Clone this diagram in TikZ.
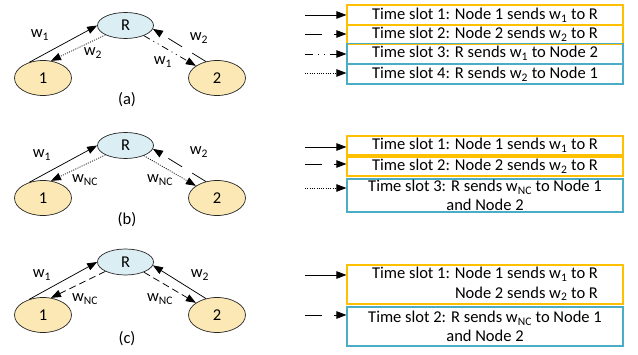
\documentclass[tikz,border=0pt]{standalone}
\usepackage{fontspec}
\setmainfont{Carlito}
\usetikzlibrary{arrows.meta,shapes.geometric}
\definecolor{gold}{HTML}{FFC000}
\definecolor{aqua}{HTML}{4BACC6}
\definecolor{rfill}{HTML}{DAEEF3}
\definecolor{nfill}{HTML}{FBE8B5}
\tikzset{
  fs/.style={font=\fontsize{16.5}{19.5}\selectfont},
  rnode/.style={ellipse, draw=black!85, line width=0.7pt, fill=rfill, minimum width=56pt, minimum height=26pt, inner sep=0pt, fs},
  unode/.style={ellipse, draw=black!85, line width=0.7pt, fill=nfill, minimum width=57pt, minimum height=35pt, inner sep=0pt, fs},
  arr/.style={-{Triangle[length=10pt,width=7.5pt]}, line width=0.75pt},
  lbl/.style={fs, inner sep=0pt},
  slotY/.style={draw=gold, line width=1.2pt, minimum width=276pt, inner sep=0pt, fs, align=center},
  slotB/.style={draw=aqua, line width=1.2pt, minimum width=276pt, inner sep=0pt, fs, align=center},
  longdash/.style={dash pattern=on 16pt off 12pt},
  meddash/.style={dash pattern=on 7pt off 4pt},
  dotline/.style={dash pattern=on 1pt off 1.3pt},
  dashdot/.style={dash pattern=on 7pt off 4pt on 1pt off 4pt on 1pt off 4pt},
}
\newcommand{\wsub}[1]{w\textsubscript{#1}}
\begin{document}
\begin{tikzpicture}[x=1pt,y=-1pt]
\useasboundingbox (0,0) rectangle (638,355);
% ---------------- panel (a)
\node[rnode] (Ra) at (125.5,25.5) {R};
\node[unode] (Aa) at (43,78) {1};
\node[unode] (Ba) at (217,78) {2};
\node[fs] (la) at (127,100) {(a)};
\draw[arr] (Aa.131) -- (Ra.180);
\draw[arr,dotline] (Ra.205) -- (Aa.65);
\draw[arr,longdash] (Ba.124) -- (Ra.353);
\draw[arr,dashdot] (Ra.331) -- (Ba.150);
\node[lbl] (a1) at (40,35) {\wsub{1}};
\node[lbl] (a2) at (93,53) {\wsub{2}};
\node[lbl] (a3) at (199,38) {\wsub{2}};
\node[lbl] (a4) at (163,62) {\wsub{1}};
% legend (a)
\node[slotY, minimum height=20pt] (ta1) at (485,15) {Time slot 1: Node 1 sends \wsub{1} to R};
\node[slotY, minimum height=19pt] (ta2) at (485,34.5) {Time slot 2: Node 2 sends \wsub{2} to R};
\node[slotB, minimum height=20pt] (ta3) at (485,53.5) {Time slot 3: R sends \wsub{1} to Node 2};
\node[slotB, minimum height=20pt] (ta4) at (485,74) {Time slot 4: R sends \wsub{2} to Node 1};
\coordinate (sa1) at (305,15);
\coordinate (sa2) at (305,34);
\coordinate (sa3) at (305,54);
\coordinate (sa4) at (305,73);
\draw[arr] (sa1) -- (sa1 -| ta1.west);
\draw[arr,dash pattern=on 17pt off 12pt] (sa2) -- (sa2 -| ta2.west);
\draw[arr,dash pattern=on 8pt off 5pt on 1pt off 5pt on 1pt off 5pt] (sa3) -- (sa3 -| ta3.west);
\draw[arr,dotline] (sa4) -- (sa4 -| ta4.west);
% ---------------- panel (b)
\node[rnode] (Rb) at (125.5,145.5) {R};
\node[unode] (Ab) at (43,198) {1};
\node[unode] (Bb) at (217,198) {2};
\node[fs] (lb) at (127,220) {(b)};
\draw[arr] (Ab.131) -- (Rb.180);
\draw[arr,dotline] (Rb.205) -- (Ab.65);
\draw[arr,longdash] (Bb.124) -- (Rb.353);
\draw[arr,dotline] (Rb.331) -- (Bb.150);
\node[lbl] (b1) at (42,155) {\wsub{1}};
\node[lbl] (b2) at (85,180) {\wsub{NC}};
\node[lbl] (b3) at (199,152) {\wsub{2}};
\node[lbl] (b4) at (160,180) {\wsub{NC}};
% legend (b)
\node[slotY, minimum height=19pt] (tb1) at (485,145.5) {Time slot 1: Node 1 sends \wsub{1} to R};
\node[slotY, minimum height=19pt] (tb2) at (485,166.5) {Time slot 2: Node 2 sends \wsub{2} to R};
\node[slotB, minimum height=33pt] (tb3) at (485,195.5) {Time slot 3: R sends \wsub{NC} to Node 1\\and Node 2};
\coordinate (sb1) at (305,147);
\coordinate (sb2) at (305,164);
\coordinate (sb3) at (305,188);
\draw[arr] (sb1) -- (sb1 -| tb1.west);
\draw[arr,dash pattern=on 17pt off 12pt] (sb2) -- (sb2 -| tb2.west);
\draw[arr,dotline] (sb3) -- (sb3 -| tb3.west);
% ---------------- panel (c)
\node[rnode] (Rc) at (125.5,262) {R};
\node[unode] (Ac) at (43,315) {1};
\node[unode] (Bc) at (217,315) {2};
\node[fs] (lc) at (127,339) {(c)};
\draw[arr] (Ac.131) -- (Rc.180);
\draw[arr,meddash] (Rc.205) -- (Ac.65);
\draw[arr] (Bc.124) -- (Rc.353);
\draw[arr,meddash] (Rc.331) -- (Bc.150);
\node[lbl] (c1) at (42,275) {\wsub{1}};
\node[lbl] (c2) at (85,299) {\wsub{NC}};
\node[lbl] (c3) at (200,275) {\wsub{2}};
\node[lbl] (c4) at (160,299) {\wsub{NC}};
% legend (c)
\node[slotY, minimum height=39pt] (tc1) at (485,284.5) {\begin{tabular}{@{}r@{ }l@{}}Time slot 1: & Node 1 sends \wsub{1} to R\\ & Node 2 sends \wsub{2} to R\end{tabular}};
\node[slotB, minimum height=39pt] (tc2) at (485,326.5) {Time slot 2: R sends \wsub{NC} to Node 1\\and Node 2};
\coordinate (sc1) at (305,275);
\coordinate (sc2) at (305,315);
\draw[arr] (sc1) -- (sc1 -| tc1.west);
\draw[arr,dash pattern=on 17pt off 12pt] (sc2) -- (sc2 -| tc2.west);
\end{tikzpicture}
\end{document}
